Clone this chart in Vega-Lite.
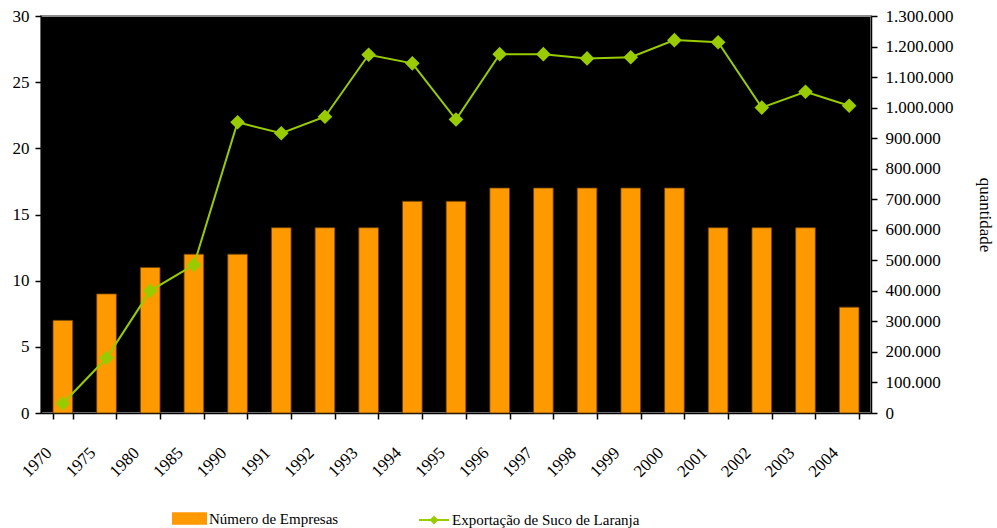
{
  "$schema": "https://vega.github.io/schema/vega-lite/v6.json",
  "autosize": {"type": "none"},
  "padding": {"left": 41, "top": 16, "right": 126, "bottom": 115},
  "width": 830,
  "height": 397,
  "background": "white",
  "data": {
    "values": [
      {"ano": "1970", "empresas": 7, "exportacao": 31000},
      {"ano": "1975", "empresas": 9, "exportacao": 180000},
      {"ano": "1980", "empresas": 11, "exportacao": 400000},
      {"ano": "1985", "empresas": 12, "exportacao": 485000},
      {"ano": "1990", "empresas": 12, "exportacao": 952000},
      {"ano": "1991", "empresas": 14, "exportacao": 916000},
      {"ano": "1992", "empresas": 14, "exportacao": 970000},
      {"ano": "1993", "empresas": 14, "exportacao": 1173000},
      {"ano": "1994", "empresas": 16, "exportacao": 1145000},
      {"ano": "1995", "empresas": 16, "exportacao": 961000},
      {"ano": "1996", "empresas": 17, "exportacao": 1175000},
      {"ano": "1997", "empresas": 17, "exportacao": 1175000},
      {"ano": "1998", "empresas": 17, "exportacao": 1161000},
      {"ano": "1999", "empresas": 17, "exportacao": 1165000},
      {"ano": "2000", "empresas": 17, "exportacao": 1221000},
      {"ano": "2001", "empresas": 14, "exportacao": 1214000},
      {"ano": "2002", "empresas": 14, "exportacao": 1000000},
      {"ano": "2003", "empresas": 14, "exportacao": 1052000},
      {"ano": "2004", "empresas": 8, "exportacao": 1006000}
    ]
  },
  "encoding": {
    "x": {
      "field": "ano",
      "type": "nominal",
      "sort": null,
      "scale": {"paddingInner": 0.55, "paddingOuter": 0.275},
      "axis": {
        "title": null,
        "tickBand": "extent",
        "labelAngle": -45,
        "labelAlign": "right",
        "labelBaseline": "middle",
        "labelPadding": 31,
        "labelOffset": -14
      }
    }
  },
  "layer": [
    {
      "mark": {"type": "bar", "stroke": "#6b4000", "strokeWidth": 0.8},
      "encoding": {
        "y": {
          "field": "empresas",
          "type": "quantitative",
          "scale": {"domain": [0, 30], "nice": false},
          "axis": {"title": null, "values": [0, 5, 10, 15, 20, 25, 30], "labelPadding": 6}
        },
        "fill": {
          "datum": "Número de Empresas",
          "type": "nominal",
          "scale": {"range": ["#FF9900"]},
          "legend": {
            "title": null,
            "orient": "none",
            "legendX": 131,
            "legendY": 485,
            "symbolType": "M-1,-0.36H1V0.36H-1Z",
            "symbolSize": 1225,
            "symbolStrokeWidth": 0,
            "labelOffset": 2
          }
        }
      }
    },
    {
      "mark": {
        "type": "line",
        "strokeWidth": 2,
        "point": {"shape": "diamond", "size": 140, "filled": true, "color": "#99CC00"}
      },
      "encoding": {
        "y": {
          "field": "exportacao",
          "type": "quantitative",
          "scale": {"domain": [0, 1300000], "nice": false},
          "axis": {
            "orient": "right",
            "title": "quantidade",
            "titlePadding": 22,
            "values": [0, 100000, 200000, 300000, 400000, 500000, 600000, 700000, 800000, 900000, 1000000, 1100000, 1200000, 1300000],
            "labelExpr": "replace(format(datum.value, ','), /,/g, '.')",
            "labelPadding": 8
          }
        },
        "stroke": {
          "datum": "Exportação de Suco de Laranja",
          "type": "nominal",
          "scale": {"range": ["#99CC00"]},
          "legend": {
            "title": null,
            "orient": "none",
            "legendX": 377,
            "legendY": 488,
            "symbolType": "M-1,0H1M0,-0.2L0.2,0L0,0.2L-0.2,0Z",
            "symbolSize": 900,
            "symbolStrokeWidth": 2,
            "symbolFillColor": "#99CC00",
            "labelOffset": 2
          }
        }
      }
    }
  ],
  "resolve": {"scale": {"y": "independent", "fill": "independent", "stroke": "independent"}, "legend": {"fill": "independent", "stroke": "independent"}},
  "config": {
    "font": "Liberation Serif",
    "view": {"fill": "black", "stroke": "#8a8a8a", "strokeWidth": 2},
    "axis": {
      "grid": false,
      "domainColor": "black",
      "domainWidth": 1.5,
      "tickColor": "black",
      "tickWidth": 1.5,
      "tickSize": 6,
      "labelColor": "black",
      "labelFont": "Liberation Serif",
      "labelFontSize": 17,
      "titleFont": "Liberation Serif",
      "titleFontSize": 17,
      "titleFontWeight": "normal",
      "titleColor": "black"
    },
    "legend": {
      "labelFont": "Liberation Serif",
      "labelFontSize": 15,
      "labelColor": "black",
      "labelLimit": 0,
      "padding": 0
    }
  }
}
